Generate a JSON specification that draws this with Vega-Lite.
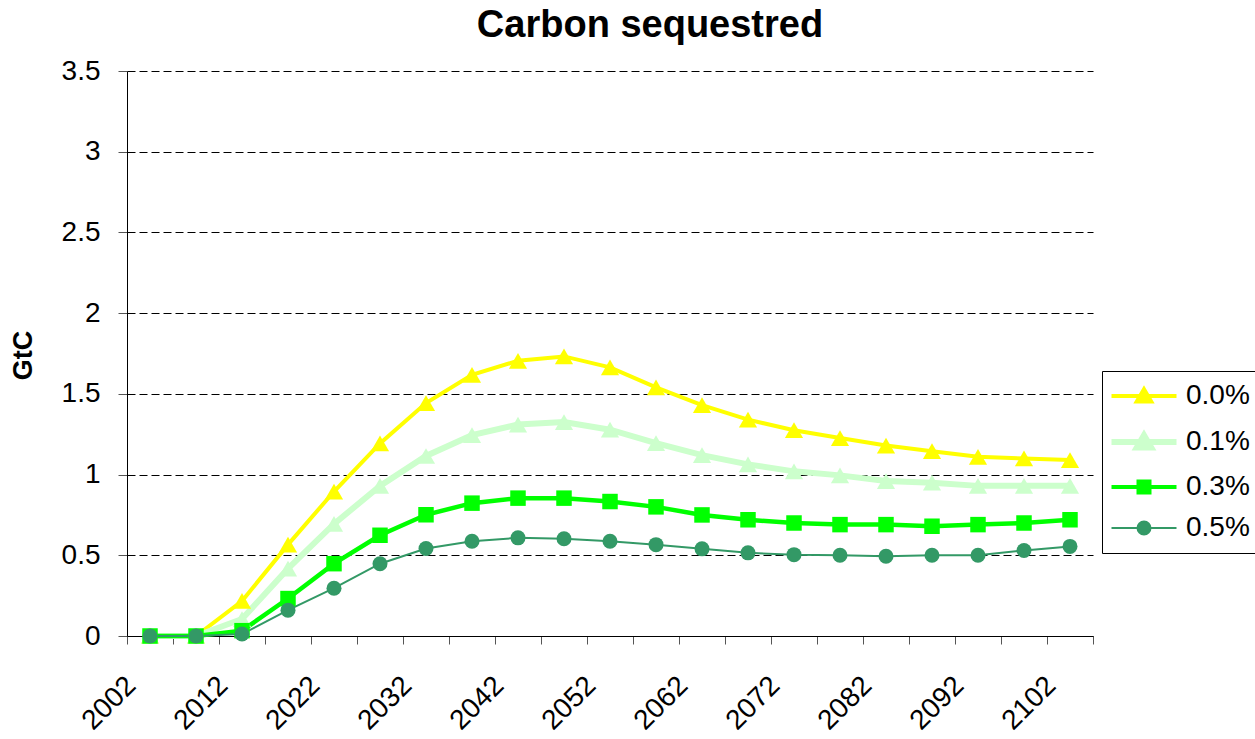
{
  "$schema": "https://vega.github.io/schema/vega-lite/v6.json",
  "autosize": {"type": "none"},
  "padding": {"left": 127, "top": 71, "right": 162, "bottom": 103},
  "width": 966,
  "height": 565,
  "background": "white",
  "title": {
    "text": "Carbon sequestred",
    "font": "Liberation Sans",
    "fontSize": 38,
    "fontWeight": "bold",
    "color": "black",
    "anchor": "middle",
    "frame": "group",
    "dx": 40,
    "offset": 12
  },
  "config": {
    "view": {"stroke": null},
    "font": "Liberation Sans"
  },
  "data": {
    "values": [
      {"year": 2002, "rate": "0.0%", "value": 0},
      {"year": 2007, "rate": "0.0%", "value": 0},
      {"year": 2012, "rate": "0.0%", "value": 0.217},
      {"year": 2017, "rate": "0.0%", "value": 0.566},
      {"year": 2022, "rate": "0.0%", "value": 0.895},
      {"year": 2027, "rate": "0.0%", "value": 1.193},
      {"year": 2032, "rate": "0.0%", "value": 1.443},
      {"year": 2037, "rate": "0.0%", "value": 1.618},
      {"year": 2042, "rate": "0.0%", "value": 1.705},
      {"year": 2047, "rate": "0.0%", "value": 1.732},
      {"year": 2052, "rate": "0.0%", "value": 1.664},
      {"year": 2057, "rate": "0.0%", "value": 1.54},
      {"year": 2062, "rate": "0.0%", "value": 1.43},
      {"year": 2067, "rate": "0.0%", "value": 1.34},
      {"year": 2072, "rate": "0.0%", "value": 1.275},
      {"year": 2077, "rate": "0.0%", "value": 1.226},
      {"year": 2082, "rate": "0.0%", "value": 1.18},
      {"year": 2087, "rate": "0.0%", "value": 1.145},
      {"year": 2092, "rate": "0.0%", "value": 1.11},
      {"year": 2097, "rate": "0.0%", "value": 1.1},
      {"year": 2102, "rate": "0.0%", "value": 1.09},
      {"year": 2002, "rate": "0.1%", "value": 0},
      {"year": 2007, "rate": "0.1%", "value": 0},
      {"year": 2012, "rate": "0.1%", "value": 0.105},
      {"year": 2017, "rate": "0.1%", "value": 0.417},
      {"year": 2022, "rate": "0.1%", "value": 0.694},
      {"year": 2027, "rate": "0.1%", "value": 0.93},
      {"year": 2032, "rate": "0.1%", "value": 1.115},
      {"year": 2037, "rate": "0.1%", "value": 1.244},
      {"year": 2042, "rate": "0.1%", "value": 1.31},
      {"year": 2047, "rate": "0.1%", "value": 1.325},
      {"year": 2052, "rate": "0.1%", "value": 1.278},
      {"year": 2057, "rate": "0.1%", "value": 1.195},
      {"year": 2062, "rate": "0.1%", "value": 1.12},
      {"year": 2067, "rate": "0.1%", "value": 1.063},
      {"year": 2072, "rate": "0.1%", "value": 1.02},
      {"year": 2077, "rate": "0.1%", "value": 0.995},
      {"year": 2082, "rate": "0.1%", "value": 0.96},
      {"year": 2087, "rate": "0.1%", "value": 0.95},
      {"year": 2092, "rate": "0.1%", "value": 0.93},
      {"year": 2097, "rate": "0.1%", "value": 0.93},
      {"year": 2102, "rate": "0.1%", "value": 0.93},
      {"year": 2002, "rate": "0.3%", "value": 0},
      {"year": 2007, "rate": "0.3%", "value": 0},
      {"year": 2012, "rate": "0.3%", "value": 0.033},
      {"year": 2017, "rate": "0.3%", "value": 0.232},
      {"year": 2022, "rate": "0.3%", "value": 0.448},
      {"year": 2027, "rate": "0.3%", "value": 0.624},
      {"year": 2032, "rate": "0.3%", "value": 0.751},
      {"year": 2037, "rate": "0.3%", "value": 0.823},
      {"year": 2042, "rate": "0.3%", "value": 0.854},
      {"year": 2047, "rate": "0.3%", "value": 0.854},
      {"year": 2052, "rate": "0.3%", "value": 0.833},
      {"year": 2057, "rate": "0.3%", "value": 0.8},
      {"year": 2062, "rate": "0.3%", "value": 0.75},
      {"year": 2067, "rate": "0.3%", "value": 0.72},
      {"year": 2072, "rate": "0.3%", "value": 0.7},
      {"year": 2077, "rate": "0.3%", "value": 0.69},
      {"year": 2082, "rate": "0.3%", "value": 0.69},
      {"year": 2087, "rate": "0.3%", "value": 0.68},
      {"year": 2092, "rate": "0.3%", "value": 0.69},
      {"year": 2097, "rate": "0.3%", "value": 0.7},
      {"year": 2102, "rate": "0.3%", "value": 0.72},
      {"year": 2002, "rate": "0.5%", "value": 0},
      {"year": 2007, "rate": "0.5%", "value": 0},
      {"year": 2012, "rate": "0.5%", "value": 0.012},
      {"year": 2017, "rate": "0.5%", "value": 0.16},
      {"year": 2022, "rate": "0.5%", "value": 0.296},
      {"year": 2027, "rate": "0.5%", "value": 0.448},
      {"year": 2032, "rate": "0.5%", "value": 0.542},
      {"year": 2037, "rate": "0.5%", "value": 0.587},
      {"year": 2042, "rate": "0.5%", "value": 0.608},
      {"year": 2047, "rate": "0.5%", "value": 0.602},
      {"year": 2052, "rate": "0.5%", "value": 0.587},
      {"year": 2057, "rate": "0.5%", "value": 0.566},
      {"year": 2062, "rate": "0.5%", "value": 0.54},
      {"year": 2067, "rate": "0.5%", "value": 0.515},
      {"year": 2072, "rate": "0.5%", "value": 0.504},
      {"year": 2077, "rate": "0.5%", "value": 0.5},
      {"year": 2082, "rate": "0.5%", "value": 0.494},
      {"year": 2087, "rate": "0.5%", "value": 0.5},
      {"year": 2092, "rate": "0.5%", "value": 0.5},
      {"year": 2097, "rate": "0.5%", "value": 0.53},
      {"year": 2102, "rate": "0.5%", "value": 0.555}
    ]
  },
  "encoding": {
    "x": {
      "field": "year",
      "type": "ordinal",
      "scale": {"type": "band", "paddingInner": 0, "paddingOuter": 0},
      "axis": {
        "title": null,
        "tickBand": "extent",
        "labelAngle": -45,
        "labelAlign": "right",
        "labelBaseline": "middle",
        "labelFont": "Liberation Sans",
        "labelFontSize": 28,
        "labelColor": "black",
        "labelExpr": "(datum.value - 2002) % 10 == 0 ? datum.label : ''",
        "labelPadding": 37,
        "labelOffset": -19,
        "labelOverlap": false,
        "labelBound": false,
        "tickSize": 8,
        "tickColor": "#555555",
        "domainColor": "black",
        "grid": false
      }
    },
    "y": {
      "field": "value",
      "type": "quantitative",
      "scale": {"domain": [0, 3.5], "nice": false, "zero": true},
      "axis": {
        "title": "GtC",
        "titleFont": "Liberation Sans",
        "titleFontSize": 27,
        "titleFontWeight": "bold",
        "titleColor": "black",
        "titleX": -104,
        "titleY": 284,
        "titleBaseline": "middle",
        "titleAngle": -90,
        "values": [0, 0.5, 1, 1.5, 2, 2.5, 3, 3.5],
        "format": "~g",
        "labelFont": "Liberation Sans",
        "labelFontSize": 28,
        "labelColor": "black",
        "labelPadding": 18,
        "tickSize": 9,
        "tickColor": "#555555",
        "domainColor": "black",
        "grid": true,
        "gridColor": "black",
        "gridDash": [8, 4],
        "gridWidth": 1
      }
    },
    "color": {
      "field": "rate",
      "type": "nominal",
      "scale": {"domain": ["0.0%", "0.1%", "0.3%", "0.5%"], "range": ["#FFFF00", "#CCFFCC", "#00FF00", "#339966"]},
      "legend": {
        "title": null,
        "orient": "none",
        "legendX": 975,
        "legendY": 300,
        "strokeColor": "black",
        "fillColor": "white",
        "padding": 11,
        "labelFont": "Liberation Sans",
        "labelFontSize": 28,
        "labelColor": "black",
        "symbolSize": 400,
        "symbolOffset": 17,
        "labelOffset": 28,
        "rowPadding": 13,
        "encode": {
          "symbols": {
            "update": {
              "shape": {"signal": "datum.value === '0.0%' || datum.value === '0.1%' ? 'M-3.25,0L3.25,0M0,-0.68L0.72,0.55L-0.72,0.55Z' : datum.value === '0.3%' ? 'M-3.25,0L3.25,0M-0.55,-0.55L0.55,-0.55L0.55,0.55L-0.55,0.55Z' : 'M-3.25,0L3.25,0M0.65,0A0.65,0.65,0,1,1,-0.65,0A0.65,0.65,0,1,1,0.65,0Z'"},
              "strokeWidth": {"signal": "datum.value === '0.1%' ? 6 : datum.value === '0.5%' ? 2 : 4"},
              "size": {"value": 400},
              "opacity": {"value": 1},
              "fillOpacity": {"value": 1},
              "strokeOpacity": {"value": 1}
            }
          }
        }
      }
    }
  },
  "layer": [
    {
      "transform": [{"filter": {"field": "rate", "equal": "0.0%"}}],
      "mark": {"type": "line", "strokeWidth": 4}
    },
    {
      "transform": [{"filter": {"field": "rate", "equal": "0.1%"}}],
      "mark": {"type": "line", "strokeWidth": 6}
    },
    {
      "transform": [{"filter": {"field": "rate", "equal": "0.3%"}}],
      "mark": {"type": "line", "strokeWidth": 4.5}
    },
    {
      "transform": [{"filter": {"field": "rate", "equal": "0.5%"}}],
      "mark": {"type": "line", "strokeWidth": 2}
    },
    {
      "transform": [{"filter": {"field": "rate", "oneOf": ["0.0%", "0.1%"]}}],
      "mark": {"type": "point", "filled": true, "opacity": 1, "shape": "triangle-up", "size": 330}
    },
    {
      "transform": [{"filter": {"field": "rate", "equal": "0.3%"}}],
      "mark": {"type": "point", "filled": true, "opacity": 1, "shape": "square", "size": 240}
    },
    {
      "transform": [{"filter": {"field": "rate", "equal": "0.5%"}}],
      "mark": {"type": "point", "filled": true, "opacity": 1, "shape": "circle", "size": 225}
    }
  ]
}
